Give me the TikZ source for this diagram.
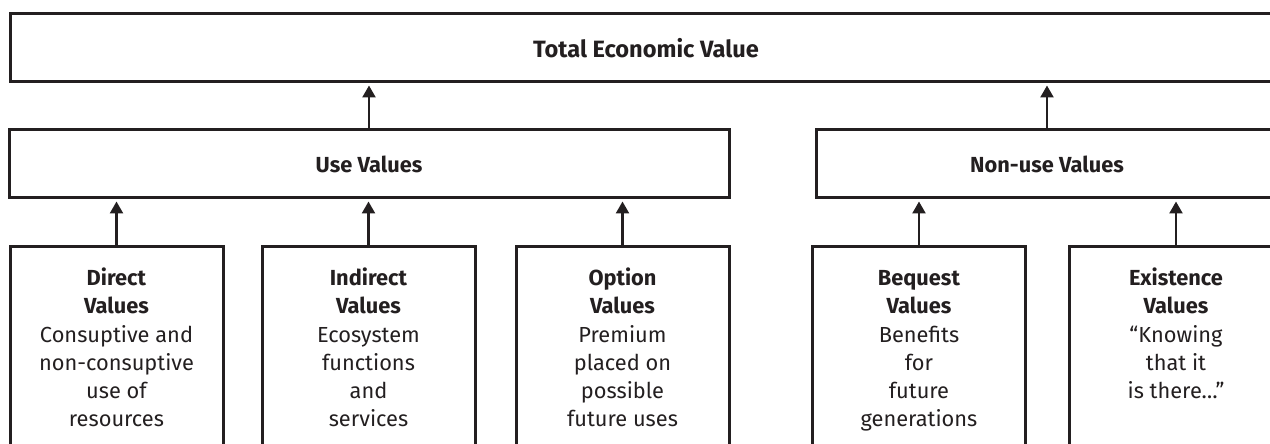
\documentclass[tikz,border=0pt]{standalone}
\usepackage{fontspec}
\setmainfont{Fira Sans}
\usetikzlibrary{positioning, arrows.meta}
\definecolor{ink}{HTML}{231F20}
\tikzset{
    every edge/.style={
        draw=ink,
        -{Triangle[length=6pt,width=6.5pt]},
        line width=1.2pt,
        shorten >=1pt
    },
    headbox/.style={draw=ink, line width=1.5pt, minimum height=34pt, inner sep=0pt,
        text=ink, font=\fontsize{10.9}{14.1}\selectfont\bfseries},
    valbox/.style={draw=ink, line width=1.5pt, minimum width=106.5pt, minimum height=120pt,
        inner sep=0pt, anchor=north},
    valtext/.style={align=center, inner sep=0pt, text=ink,
        font=\fontsize{10.9}{14.1}\selectfont}
}

\begin{document}
\begin{tikzpicture}[x=0.5pt,y=-0.5pt]
	\useasboundingbox (0,0) rectangle (1270,444);
	\clip (0,0) rectangle (1270,444);
	% top row
	\node[headbox, minimum width=636pt, font=\fontsize{11.8}{14.1}\selectfont\bfseries]
		at (646,48) (total) {Total Economic Value};
	% middle row
	\node[headbox, minimum width=360pt] at (369,164) (use) {Use Values};
	\node[headbox, minimum width=231pt] at (1047,164) (nonuse) {Non-use Values};
	% bottom row
	\node[valbox] at (116.5,245) (direct) {};
	\node[valbox] at (368.5,245) (indirect) {};
	\node[valbox] at (622.5,245) (option) {};
	\node[valbox] at (919,245) (bequest) {};
	\node[valbox] at (1176,245) (existence) {};
	\node[valtext, below=10.3pt of direct.north] (directtxt)
		{\strut\textbf{Direct}\\\textbf{Values}\\Consuptive and\\non-consuptive\\use of\\resources};
	\node[valtext, below=10.3pt of indirect.north] (indirecttxt)
		{\strut\textbf{Indirect}\\\textbf{Values}\\Ecosystem\\functions\\and\\services};
	\node[valtext, below=10.3pt of option.north] (optiontxt)
		{\strut\textbf{Option}\\\textbf{Values}\\Premium\\placed on\\possible\\future uses};
	\node[valtext, below=10.3pt of bequest.north] (bequesttxt)
		{\strut\textbf{Bequest}\\\textbf{Values}\\Benefits\\for\\future\\generations};
	\node[valtext, below=10.3pt of existence.north] (existencetxt)
		{\strut\textbf{Existence}\\\textbf{Values}\\“Knowing\\that it\\is there…”};
	\draw
	(use.north) edge (use.north |- total.south)
	(nonuse.north) edge (nonuse.north |- total.south)
	(direct.north) edge (direct.north |- use.south)
	(indirect.north) edge (indirect.north |- use.south)
	(option.north) edge (option.north |- use.south)
	(bequest.north) edge (bequest.north |- nonuse.south)
	(existence.north) edge (existence.north |- nonuse.south);
\end{tikzpicture}
\end{document}
